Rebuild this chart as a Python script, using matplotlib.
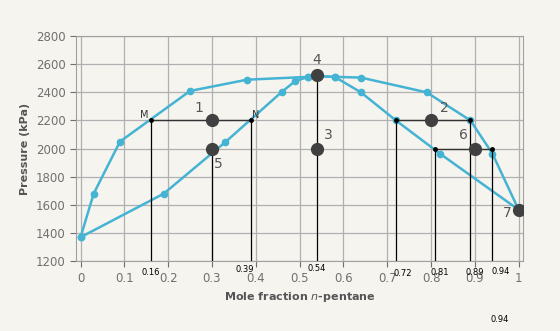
import matplotlib
matplotlib.use("Agg")
import matplotlib.pyplot as plt

# curva superior (burbuja) e inferior (rocio)
sup_x = [0, 0.03, 0.09, 0.25, 0.38, 0.52, 0.54, 0.58, 0.64, 0.79, 0.89, 0.94, 1.0]
sup_p = [1370, 1680, 2050, 2410, 2490, 2510, 2515, 2510, 2505, 2400, 2200, 1965, 1565]
inf_x = [0, 0.19, 0.33, 0.46, 0.49, 0.52, 0.54, 0.58, 0.64, 0.72, 0.82, 1.0]
inf_p = [1370, 1680, 2045, 2405, 2480, 2510, 2515, 2510, 2400, 2200, 1965, 1565]

# puntos numerados
pt_lab = ["1", "2", "3", "4", "5", "6", "7"]
pt_x = [0.30, 0.80, 0.54, 0.54, 0.30, 0.90, 1.0]
pt_p = [2200, 2200, 2000, 2520, 2000, 2000, 1565]

# lineas de enlace horizontales (x1, x2, p)
tie_x1 = [0.16, 0.72, 0.81]
tie_x2 = [0.39, 0.89, 0.94]
tie_p = [2200, 2200, 2000]

# lineas verticales hasta el eje
vl_x = [0.16, 0.30, 0.39, 0.54, 0.72, 0.81, 0.89, 0.94]
vl_p = [2200, 2000, 2200, 2520, 2200, 2000, 2200, 2000]
vl_txt = ["0.16", None, "0.39", "0.54", "0.72", "0.81", "0.89", "0.94"]

cian = "#45b3d3"
gris = "#707070"

fig = plt.figure(figsize=(5.6, 3.31), dpi=100)
fig.patch.set_facecolor("#f6f4ef")
ax = fig.add_axes([0.136, 0.211, 0.798, 0.68])
ax.set_facecolor("#f6f4ef")

ax.plot(sup_x, sup_p, "-o", color=cian, lw=1.8, ms=4.5, zorder=3)
ax.plot(inf_x, inf_p, "-o", color=cian, lw=1.8, ms=4.5, zorder=3)

for x1, x2, p in zip(tie_x1, tie_x2, tie_p):
    ax.plot([x1, x2], [p, p], color="#333333", lw=1.0, zorder=4)
    ax.plot([x1, x2], [p, p], "o", color="black", ms=2.5, zorder=6)

# desplazamiento de las etiquetas pequenas respecto a la linea
txt_dx = {"0.16": 0.0, "0.39": -0.015, "0.54": 0.0, "0.72": 0.015,
          "0.81": 0.01, "0.89": 0.01, "0.94": 0.018}
txt_dp = {"0.16": -80, "0.39": -60, "0.54": -50, "0.72": -85,
          "0.81": -80, "0.89": -80, "0.94": -75}
for x, p, t in zip(vl_x, vl_p, vl_txt):
    ax.plot([x, x], [1200, p], color="black", lw=0.9, zorder=4)
    if t:
        ax.text(x + txt_dx[t], 1200 + txt_dp[t], t, fontsize=6, ha="center",
                va="center", color="black", clip_on=False)
fig.text(500 / 560, 1 - 320 / 331, "0.94", fontsize=6, ha="center", va="center",
         color="black")

ax.plot(pt_x, pt_p, "o", color="#404040", ms=8.5, zorder=7)

# etiquetas de puntos
offs = {"1": (-0.03, 90), "2": (0.03, 90), "3": (0.025, 100), "4": (0.0, 110),
        "5": (0.015, -110), "6": (-0.025, 100), "7": (-0.025, -25)}
for lab, x, p in zip(pt_lab, pt_x, pt_p):
    dx, dp = offs[lab]
    ax.text(x + dx, p + dp, lab, fontsize=10, color="#555555", ha="center", va="center")
ax.text(0.145, 2240, "M", fontsize=7, color="#333333", ha="center", va="center")
ax.text(0.40, 2240, "N", fontsize=7, color="#333333", ha="center", va="center")

ax.set_xlim(-0.01, 1.01)
ax.set_ylim(1200, 2800)
ax.set_xticks([0, 0.1, 0.2, 0.3, 0.4, 0.5, 0.6, 0.7, 0.8, 0.9, 1])
ax.set_xticklabels(["0", "0.1", "0.2", "0.3", "0.4", "0.5", "0.6", "0.7", "0.8", "0.9", "1"])
ax.set_yticks(range(1200, 2801, 200))
ax.tick_params(colors=gris, labelsize=8.5, length=4)
ax.grid(True, color="#b0b0b0", lw=0.9)
for s in ax.spines.values():
    s.set_color("#a0a0a0")

ax.set_xlabel("Mole fraction $\\mathit{n}$-pentane", fontsize=8, color="#555555",
              fontweight="bold", labelpad=4)
ax.set_ylabel("Pressure (kPa)", fontsize=8, color="#555555", fontweight="bold")

fig.savefig("out.png", dpi=100, facecolor=fig.get_facecolor())
